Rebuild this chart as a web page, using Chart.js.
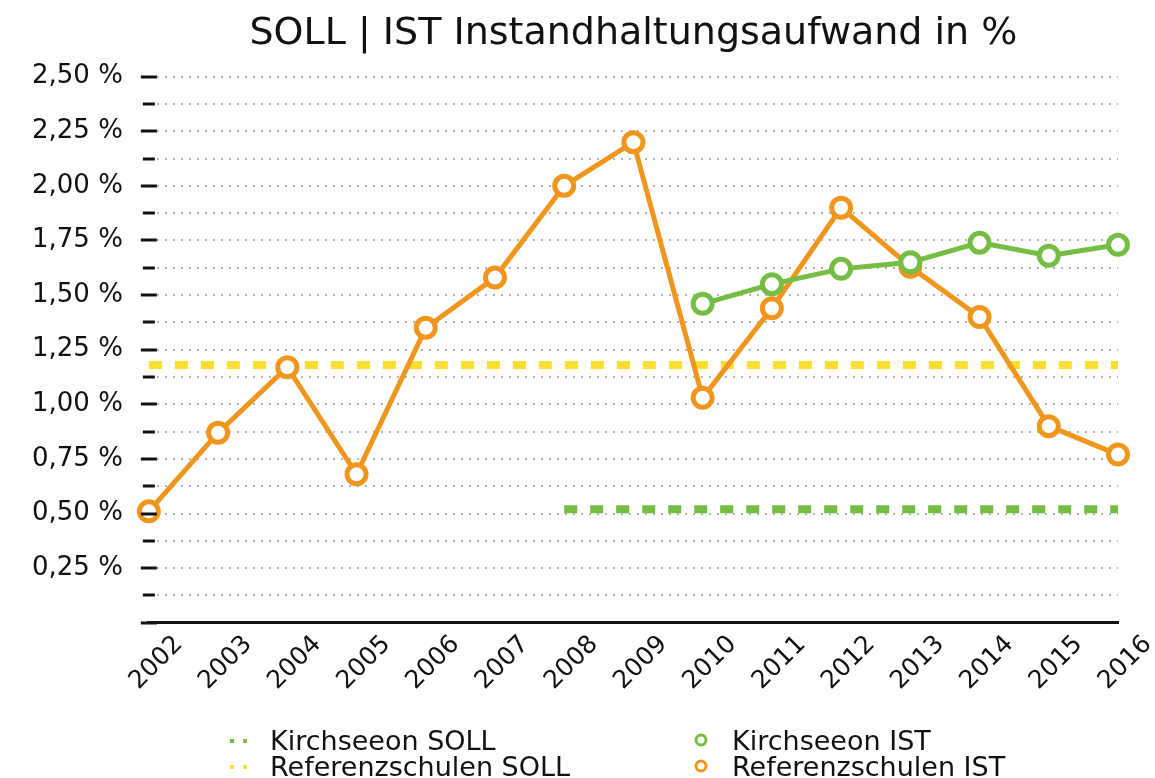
<!DOCTYPE html>
<html>
<head>
<meta charset="utf-8">
<script src="https://cdn.jsdelivr.net/npm/chart.js@4.4.0/dist/chart.umd.min.js"></script>
<style>
  body { margin: 0; background: #fff; }
  #wrap { position: relative; width: 1155px; height: 778px; }
  #legend { position: absolute; left: 0; top: 727px; width: 1155px; font-family: "DejaVu Sans", sans-serif; font-size: 27px; color: #111; }
  .item { position: absolute; height: 27px; line-height: 27px; white-space: nowrap; }
  .mark { position: absolute; left: 0; top: 8px; }
  .txt { position: absolute; left: 42px; top: 0; }
</style>
</head>
<body>
<div id="wrap">
  <canvas id="lineChart" width="1155" height="778"></canvas>
  <div id="legend"></div>
</div>
<script>
const years = ['2002', '2003', '2004', '2005', '2006', '2007', '2008', '2009', '2010', '2011', '2012', '2013', '2014', '2015', '2016'];
const kirchseeonSoll = [null, null, null, null, null, null, 0.52, 0.52, 0.52, 0.52, 0.52, 0.52, 0.52, 0.52, 0.52];
const kirchseeonIst = [null, null, null, null, null, null, null, null, 1.46, 1.55, 1.62, 1.65, 1.74, 1.68, 1.73];
const referenzSoll = [1.18, 1.18, 1.18, 1.18, 1.18, 1.18, 1.18, 1.18, 1.18, 1.18, 1.18, 1.18, 1.18, 1.18, 1.18];
const referenzIst = [0.51, 0.87, 1.17, 0.68, 1.35, 1.58, 2.00, 2.20, 1.03, 1.44, 1.90, 1.63, 1.40, 0.90, 0.77];
const yTicks = [0.25, 0.5, 0.75, 1.0, 1.25, 1.5, 1.75, 2.0, 2.25, 2.5];

const green = '#76bd43';
const yellow = '#f9df30';
const orange = '#f0961c';
const fontFam = '"DejaVu Sans", sans-serif';

// tick marks crossing the left edge, long for labelled values, short between
const tickMarks = {
    id: 'tickMarks',
    afterDraw(chart) {
        const y = chart.scales.y;
        const c = chart.ctx;
        const x0 = chart.chartArea.left;
        c.save();
        c.strokeStyle = '#111';
        c.lineWidth = 3;
        for (let v = 0; v <= 2.5001; v += 0.125) {
            const py = Math.round(y.getPixelForValue(v));
            const major = Math.abs(v * 4 - Math.round(v * 4)) < 0.001;
            const half = major ? 8 : 6;
            c.beginPath();
            c.moveTo(x0 - half, py);
            c.lineTo(x0 + half, py);
            c.stroke();
        }
        c.restore();
    }
};

const ctx = document.getElementById('lineChart').getContext('2d');
let myChart = new Chart(ctx, {
    type: 'line',
    data: {
        labels: years,
        datasets: [{
            label: 'Kirchseeon SOLL',
            data: kirchseeonSoll,
            borderColor: green,
            borderWidth: 8,
            borderDash: [13, 13],
            pointRadius: 0,
            order: 3
        }, {
            label: 'Kirchseeon IST',
            data: kirchseeonIst,
            borderColor: green,
            backgroundColor: '#fff',
            borderWidth: 5,
            pointRadius: 9.5,
            pointBorderWidth: 5,
            order: 1
        }, {
            label: 'Referenzschulen SOLL',
            data: referenzSoll,
            borderColor: yellow,
            borderWidth: 8,
            borderDash: [13, 13],
            pointRadius: 0,
            order: 4
        }, {
            label: 'Referenzschulen IST',
            data: referenzIst,
            borderColor: orange,
            backgroundColor: '#fff',
            borderWidth: 5,
            pointRadius: 9.5,
            pointBorderWidth: 5,
            order: 2
        }]
    },
    options: {
        responsive: false,
        animation: false,
        clip: false,
        layout: { padding: { left: 6, right: 37, top: 0, bottom: 75 } },
        plugins: {
            legend: { display: false },
            tooltip: { enabled: false },
            title: {
                display: true,
                text: 'SOLL | IST Instandhaltungsaufwand in %',
                fullSize: false,
                color: '#111',
                font: { family: fontFam, size: 38, weight: 'normal' },
                padding: { top: 11, bottom: 20 }
            }
        },
        scales: {
            x: {
                offset: false,
                grid: { display: false, drawTicks: false },
                border: { display: true, color: '#111', width: 3 },
                ticks: {
                    color: '#111',
                    font: { family: fontFam, size: 25 },
                    minRotation: 45,
                    maxRotation: 45,
                    labelOffset: 30,
                    padding: 7
                }
            },
            y: {
                min: 0,
                max: 2.5,
                grid: {
                    color: '#b4b4b4',
                    lineWidth: 2,
                    drawTicks: false
                },
                border: { display: false, dash: [2, 6] },
                ticks: {
                    stepSize: 0.125,
                    autoSkip: false,
                    padding: 26,
                    color: '#111',
                    font: { family: fontFam, size: 26 },
                    callback: function (v) {
                        if (yTicks.indexOf(v) < 0) return '';
                        return v.toFixed(2).replace('.', ',') + ' %';
                    }
                }
            }
        }
    },
    plugins: [tickMarks]
});

// legend laid out in two columns like the original
const legend = document.getElementById('legend');
const cols = [228, 690];
myChart.data.datasets.forEach(function (ds, i) {
    const item = document.createElement('div');
    item.className = 'item';
    item.style.left = cols[i % 2] + 'px';
    item.style.top = (Math.floor(i / 2) * 26) + 'px';
    let mark;
    if (ds.pointRadius > 0) {
        mark = '<svg class="mark" width="22" height="14" style="top:6px"><circle cx="11" cy="7" r="5" fill="#fff" stroke="' + ds.borderColor + '" stroke-width="3"/></svg>';
    } else {
        mark = '<svg class="mark" width="24" height="14" style="top:7px"><rect x="2" y="5" width="4" height="4" fill="' + ds.borderColor + '"/><rect x="15" y="5" width="4" height="4" fill="' + ds.borderColor + '"/></svg>';
    }
    item.innerHTML = mark + '<span class="txt">' + ds.label + '</span>';
    legend.appendChild(item);
});
</script>
</body>
</html>
